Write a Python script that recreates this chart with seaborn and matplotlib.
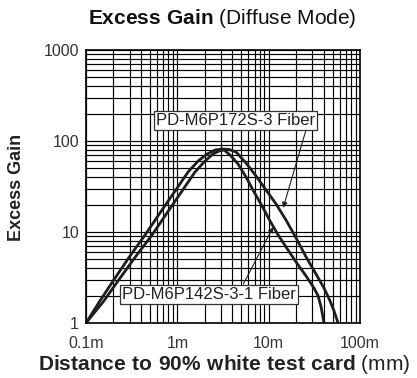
import matplotlib
matplotlib.use("Agg")
import matplotlib.pyplot as plt
import seaborn as sns
import pandas as pd

# ---- data ----
dist_172 = [0.1, 0.142, 0.208, 0.303, 0.443, 0.646, 0.944, 1.31, 1.69, 2.12, 2.59, 3.09, 3.68,
            4.40, 5.65, 7.28, 9.37, 12.05, 15.5, 19.95, 25.7, 33.0, 40.4, 47.0, 52.0, 57.5]
gain_172 = [1.0, 1.75, 3.12, 5.45, 9.27, 16.2, 28.2, 45.6, 60.3, 72.0, 79.6, 81.7, 80.7,
            75.7, 57.3, 41.2, 28.9, 20.3, 13.5, 8.6, 5.31, 3.45, 2.42, 1.75, 1.355, 1.0]

dist_142 = [0.1, 0.157, 0.236, 0.353, 0.528, 0.771, 1.125, 1.56, 2.01, 2.46, 2.86, 3.25, 3.78,
            4.62, 5.65, 6.92, 8.47, 10.36, 12.7, 15.5, 19.95, 25.7, 31.4, 34.8, 37.5, 40.4]
gain_142 = [1.0, 1.75, 3.12, 5.45, 9.27, 16.2, 28.2, 45.6, 60.3, 72.0, 77.6, 79.6, 70.2,
            55.9, 40.2, 27.5, 19.3, 13.2, 9.27, 6.84, 4.68, 3.28, 2.42, 1.98, 1.50, 1.0]

series_names = ["PD-M6P172S-3 Fiber", "PD-M6P142S-3-1 Fiber"]
x_ticks = [0.1, 1, 10, 100]
x_ticklabels = ["0.1m", "1m", "10m", "100m"]
y_ticks = [1, 10, 100, 1000]
y_ticklabels = ["1", "10", "100", "1000"]

df = pd.concat([
    pd.DataFrame({"dist": dist_172, "gain": gain_172, "series": series_names[0]}),
    pd.DataFrame({"dist": dist_142, "gain": gain_142, "series": series_names[1]}),
])

sns.set_style("white")
plt.rcParams["font.family"] = ["Liberation Sans", "DejaVu Sans"]
plt.rcParams["mathtext.fontset"] = "custom"
plt.rcParams["mathtext.rm"] = "Liberation Sans"
plt.rcParams["mathtext.bf"] = "Liberation Sans:bold"

fig = plt.figure(figsize=(4.17, 3.78), dpi=100)
ax = fig.add_axes([86/417, 1-323/378, (360-86)/417, (323-50)/378])

ax.set_xscale("log")
ax.set_yscale("log")
ax.set_xlim(0.1, 100)
ax.set_ylim(1, 1000)

ax.grid(True, which="both", color="black", lw=0.85)
ax.set_axisbelow(True)

for name in series_names:
    sub = df[df["series"] == name]
    sns.lineplot(data=sub, x="dist", y="gain", ax=ax, estimator=None, sort=False,
                 color="#1e1e1e", lw=2.0, legend=False, solid_joinstyle="round",
                 solid_capstyle="round")

ax.set_xticks(x_ticks)
ax.set_xticklabels(x_ticklabels)
ax.set_yticks(y_ticks)
ax.set_yticklabels(y_ticklabels)
ax.xaxis.set_minor_formatter(matplotlib.ticker.NullFormatter())
ax.yaxis.set_minor_formatter(matplotlib.ticker.NullFormatter())
ax.tick_params(which="both", length=0, labelsize=11.5, labelcolor="#333333")
ax.tick_params(axis="x", pad=9)
ax.tick_params(axis="y", pad=5)
for s in ax.spines.values():
    s.set_color("black")
    s.set_linewidth(1.2)

ax.set_xlabel("")
ax.set_ylabel("")

# labels with arrows
box = dict(boxstyle="square,pad=0.12", fc="white", ec="#333333", lw=0.9)
ax.annotate(series_names[0], xy=(14.4, 18.4), xycoords="data",
            xytext=(4.29, 170), textcoords="data",
            ha="center", va="center", fontsize=12, color="#222222", bbox=box,
            arrowprops=dict(arrowstyle="-|>", color="#222222", lw=0.8,
                            mutation_scale=8, shrinkA=0, shrinkB=0,
                            relpos=(0.95, 0.0)))
ax.annotate(series_names[1], xy=(11.2, 11.35), xycoords="data",
            xytext=(2.22, 2.08), textcoords="data",
            ha="center", va="center", fontsize=12, color="#222222", bbox=box,
            arrowprops=dict(arrowstyle="-|>", color="#222222", lw=0.8,
                            mutation_scale=8, shrinkA=0, shrinkB=0,
                            relpos=(0.69, 1.0)))

fig.text(222/417, 1 - 19/378, r"$\mathbf{Excess\ Gain}$ (Diffuse Mode)",
         ha="center", va="center", fontsize=15, color="#111111")
fig.text(224/417, 1 - 364/378, r"$\mathbf{Distance\ to\ 90\%\ white\ test\ card}$ (mm)",
         ha="center", va="center", fontsize=15, color="#222222")
fig.text(17/417, 1 - 187/378, "Excess Gain", rotation=90, fontweight="bold",
         ha="center", va="center", fontsize=13, color="#222222")

fig.savefig("out.png", dpi=100)
